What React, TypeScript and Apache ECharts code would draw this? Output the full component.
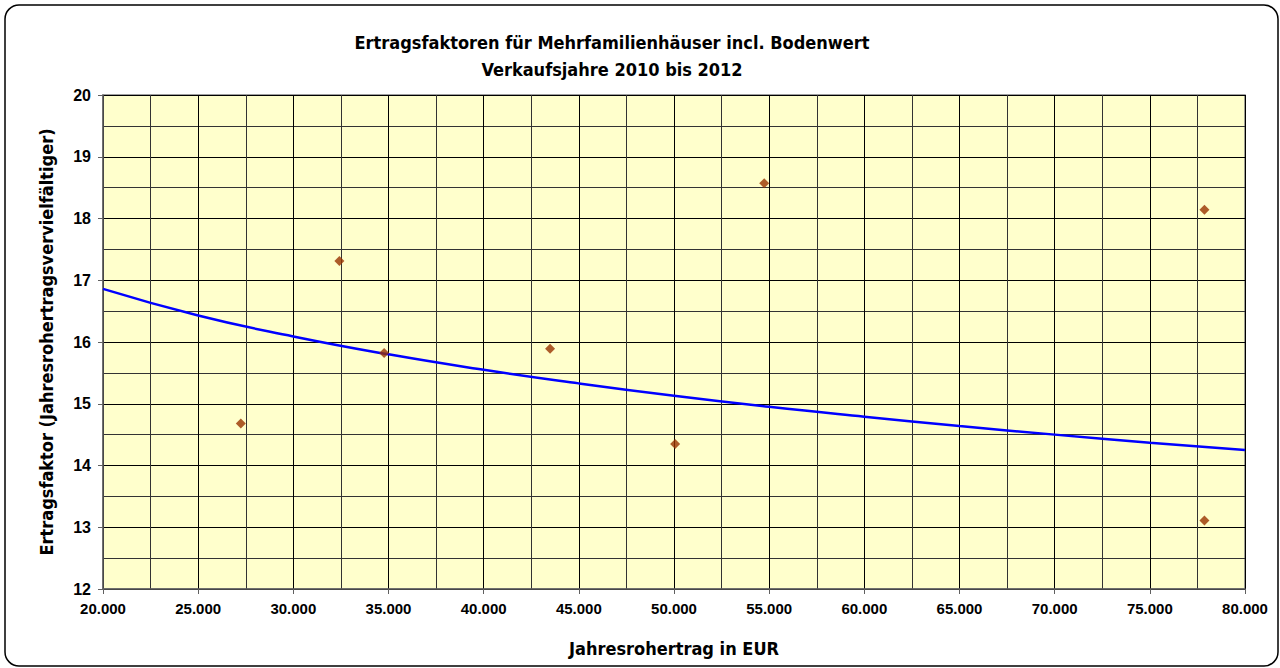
import React, { useEffect, useRef } from "react";
import * as echarts from "echarts";

const titleLines = ["Ertragsfaktoren für Mehrfamilienhäuser incl. Bodenwert", "Verkaufsjahre 2010 bis 2012"];
const xAxisTitle = "Jahresrohertrag in EUR";
const yAxisTitle = "Ertragsfaktor (Jahresrohertragsvervielfältiger)";

// scatter observations: [Jahresrohertrag, Ertragsfaktor]
const pointX = [27240, 32420, 34770, 43490, 50060, 54740, 77870, 77870];
const pointY = [14.68, 17.31, 15.82, 15.89, 14.35, 18.57, 18.14, 13.11];

// trend line
const trendX = [20000, 25000, 30000, 35000, 40000, 45000, 50000, 55000, 60000, 65000, 70000, 75000, 80000];
const trendY = [16.86, 16.43, 16.09, 15.8, 15.55, 15.33, 15.13, 14.95, 14.79, 14.64, 14.5, 14.37, 14.25];

const NARROW = "'Liberation Sans Narrow', 'DejaVu Sans Condensed', 'Roboto Condensed', sans-serif";
const SANS = "'Liberation Sans', Arial, sans-serif";

export default function App() {
  const ref = useRef<HTMLDivElement>(null);
  useEffect(() => {
    if (!ref.current) return;
    const chart = echarts.init(ref.current, undefined, { renderer: "svg" });
    const fmt = (v: number) => {
      const s = Math.round(v).toString();
      return s.length > 3 ? s.slice(0, s.length - 3) + "." + s.slice(s.length - 3) : s;
    };
    chart.setOption({
      animation: false,
      backgroundColor: "#ffffff",
      graphic: [
        {
          type: "rect",
          shape: { x: 5, y: 5, width: 1273, height: 661, r: 14 },
          style: { fill: "none", stroke: "#000", lineWidth: 1.5 },
          silent: true,
          z: -1,
        },
        {
          type: "text",
          x: 612,
          y: 42,
          style: {
            text: titleLines[0],
            font: `bold 18px ${NARROW}`,
            fill: "#000",
            textAlign: "center",
            textVerticalAlign: "middle",
          },
        },
        {
          type: "text",
          x: 612,
          y: 69,
          style: {
            text: titleLines[1],
            font: `bold 18px ${NARROW}`,
            fill: "#000",
            textAlign: "center",
            textVerticalAlign: "middle",
          },
        },
      ],
      grid: {
        left: 103,
        right: 35,
        top: 95,
        bottom: 79,
        containLabel: false,
        outerBoundsMode: "none",
        show: true,
        backgroundColor: "#FFFFCC",
        borderColor: "#808080",
        borderWidth: 1.5,
      },
      xAxis: {
        type: "value",
        min: 20000,
        max: 80000,
        interval: 5000,
        name: xAxisTitle,
        nameLocation: "middle",
        nameGap: 50,
        nameTextStyle: { fontFamily: NARROW, fontWeight: "bold", fontSize: 18, color: "#000" },
        axisLine: { show: true, onZero: false, lineStyle: { color: "#606060", width: 1.5 } },
        axisTick: { show: true, length: 5, lineStyle: { color: "#606060" } },
        axisLabel: {
          formatter: (v: number) => fmt(v),
          fontFamily: SANS,
          fontWeight: "bold",
          fontSize: 15,
          color: "#000",
          margin: 12,
        },
        splitLine: { show: true, lineStyle: { color: "#000", width: 1 } },
        minorTick: { show: false, splitNumber: 2 },
        minorSplitLine: { show: true, lineStyle: { color: "#333", width: 1 } },
      },
      yAxis: {
        type: "value",
        min: 12,
        max: 20,
        interval: 1,
        name: yAxisTitle,
        nameLocation: "middle",
        nameGap: 48,
        nameRotate: 90,
        nameTextStyle: { fontFamily: NARROW, fontWeight: "bold", fontSize: 18, color: "#000" },
        axisLine: { show: true, onZero: false, lineStyle: { color: "#606060", width: 1.5 } },
        axisTick: { show: true, length: 5, lineStyle: { color: "#606060" } },
        axisLabel: {
          fontFamily: SANS,
          fontWeight: "bold",
          fontSize: 16,
          color: "#000",
          margin: 12,
        },
        splitLine: { show: true, lineStyle: { color: "#000", width: 1 } },
        minorTick: { show: false, splitNumber: 2 },
        minorSplitLine: { show: true, lineStyle: { color: "#333", width: 1 } },
      },
      series: [
        {
          type: "line",
          data: trendX.map((x, i) => [x, trendY[i]]),
          smooth: true,
          showSymbol: false,
          lineStyle: { color: "#0000FF", width: 2.5 },
          z: 3,
        },
        {
          type: "scatter",
          data: pointX.map((x, i) => [x, pointY[i]]),
          symbol: "diamond",
          symbolSize: 10,
          itemStyle: { color: "#993300" },
          z: 4,
        },
      ],
    });
    return () => chart.dispose();
  }, []);
  return (
    <div
      ref={ref}
      style={{ position: "fixed", left: 0, top: 0, width: 1280, height: 668 }}
    />
  );
}
